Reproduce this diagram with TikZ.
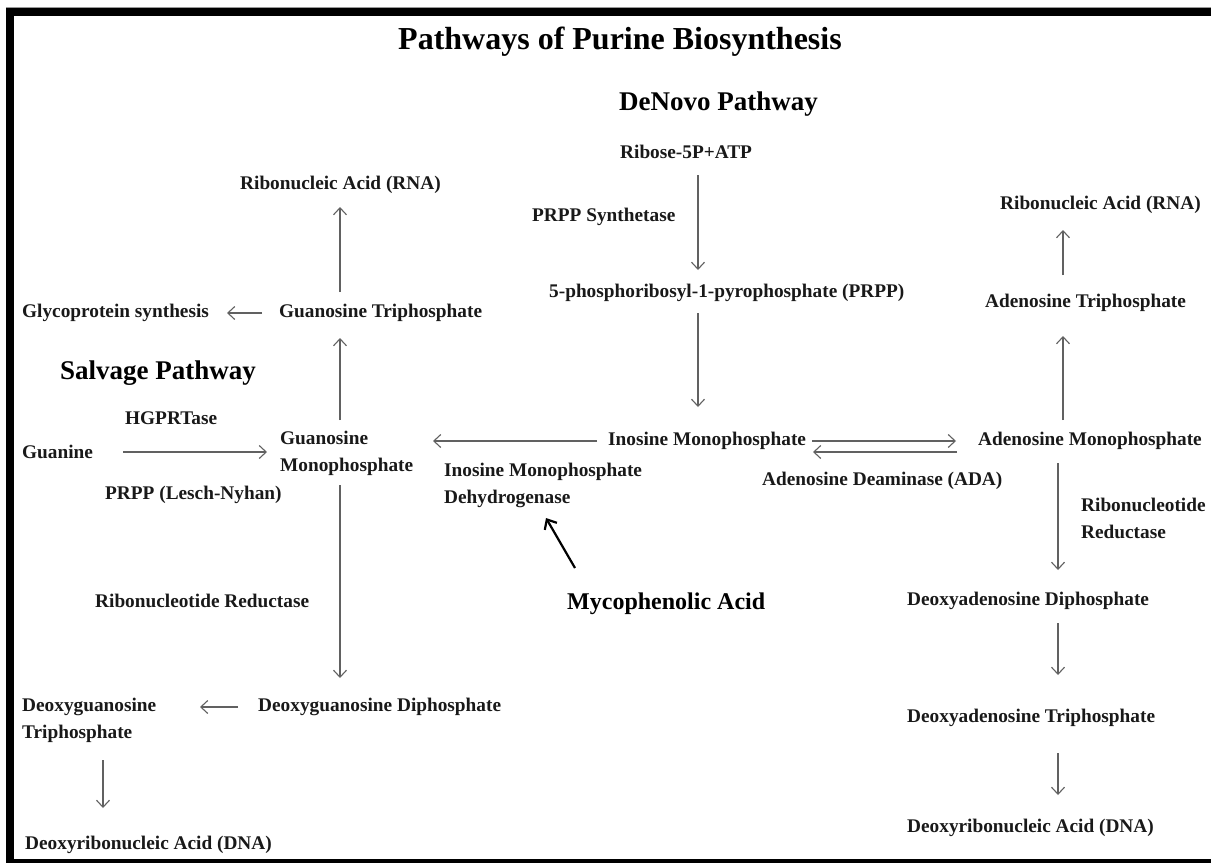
\documentclass[tikz,border=0pt]{standalone}
\usepackage{fontspec}
\setmainfont{Liberation Serif}
\usetikzlibrary{arrows.meta}
\begin{document}
\begin{tikzpicture}[x=1pt,y=-1pt,
  lbl/.style={font=\bfseries\fontsize{19.3}{27}\selectfont, text=black!90, inner sep=0pt, align=left, anchor=west},
  hd/.style={font=\bfseries\fontsize{27}{30}\selectfont, inner sep=0pt, anchor=west},
  arr/.style={draw=black!62, line width=1.1pt, -{Straight Barb[length=7pt,width=13pt,line width=1.1pt]}},
  inhib/.style={draw=black, line width=2.2pt, -{Straight Barb[length=8pt,width=14pt,line width=2.2pt]}}]
\useasboundingbox (0,0) rectangle (1211,863);
\fill[white] (0,0) rectangle (1211,863);
% frame
\fill[black!40] (6,6.5) rectangle (1211,8);
\fill[black] (6,8) rectangle (1211,16);
\fill[black] (6,8) rectangle (14,863);
\fill[black] (6,859) rectangle (1211,863);

% headings
\node[hd, font=\bfseries\fontsize{32}{34}\selectfont, anchor=center] (title) at (620,42) {Pathways of Purine Biosynthesis};
\node[hd] (denovo) at (619,104) {DeNovo Pathway};
\node[hd] (salvage) at (60,373) {Salvage Pathway};
\node[hd, font=\bfseries\fontsize{24}{28}\selectfont] (myco) at (567,604) {Mycophenolic Acid};

% de novo column
\node[lbl] (ribose) at (620,152) {Ribose-5P+ATP};
\node[lbl] (prpps) at (532,217) {PRPP Synthetase};
\node[lbl] (prpp) at (549,293) {5-phosphoribosyl-1-pyrophosphate (PRPP)};
\node[lbl] (imp) at (608,441) {Inosine Monophosphate};
\node[lbl] (impdh) at (444,485) {Inosine Monophosphate\\Dehydrogenase};

% guanosine side
\node[lbl] (rnaL) at (240,185) {Ribonucleic Acid (RNA)};
\node[lbl] (gtp) at (279,313) {Guanosine Triphosphate};
\node[lbl] (glyco) at (22,313) {Glycoprotein synthesis};
\node[lbl] (hgprt) at (125,418) {HGPRTase};
\node[lbl] (guanine) at (22,452) {Guanine};
\node[lbl] (gmp) at (280,453.5) {Guanosine\\Monophosphate};
\node[lbl] (lesch) at (105,495) {PRPP (Lesch-Nyhan)};
\node[lbl] (rrL) at (95,601) {Ribonucleotide Reductase};
\node[lbl] (dgdp) at (258,707) {Deoxyguanosine Diphosphate};
\node[lbl] (dgtp) at (22,720) {Deoxyguanosine\\Triphosphate};
\node[lbl] (dnaL) at (25,845) {Deoxyribonucleic Acid (DNA)};

% adenosine side
\node[lbl] (rnaR) at (1000,205) {Ribonucleic Acid (RNA)};
\node[lbl] (atp) at (985,303) {Adenosine Triphosphate};
\node[lbl] (amp) at (978,441) {Adenosine Monophosphate};
\node[lbl] (ada) at (762,481) {Adenosine Deaminase (ADA)};
\node[lbl] (rrR) at (1081,518.5) {Ribonucleotide\\Reductase};
\node[lbl] (dadp) at (907,601) {Deoxyadenosine Diphosphate};
\node[lbl] (datp) at (907,718) {Deoxyadenosine Triphosphate};
\node[lbl] (dnaR) at (907,828) {Deoxyribonucleic Acid (DNA)};

% connector end points
\coordinate (c1a) at (698,175);  \coordinate (c1b) at (698,270);
\coordinate (c2a) at (698,313);  \coordinate (c2b) at (698,407);
\coordinate (c3a) at (597,441);  \coordinate (c3b) at (433,441);
\coordinate (c4a) at (812,441);  \coordinate (c4b) at (956,441);
\coordinate (c5a) at (957,452);  \coordinate (c5b) at (813,452);
\coordinate (c6a) at (123,452);  \coordinate (c6b) at (267,452);
\coordinate (c7a) at (340,420);  \coordinate (c7b) at (340,338);
\coordinate (c8a) at (340,292);  \coordinate (c8b) at (340,207);
\coordinate (c9a) at (262,313);  \coordinate (c9b) at (227,313);
\coordinate (c10a) at (1063,420); \coordinate (c10b) at (1063,336);
\coordinate (c11a) at (1063,275); \coordinate (c11b) at (1063,230);
\coordinate (c12a) at (1058,463); \coordinate (c12b) at (1058,570);
\coordinate (c13a) at (1058,623); \coordinate (c13b) at (1058,675);
\coordinate (c14a) at (1058,753); \coordinate (c14b) at (1058,795);
\coordinate (c15a) at (340,485);  \coordinate (c15b) at (340,678);
\coordinate (c16a) at (238,707);  \coordinate (c16b) at (200,707);
\coordinate (c17a) at (103,760);  \coordinate (c17b) at (103,808);
\coordinate (c18a) at (575,568);  \coordinate (c18b) at (546,518);

\draw[arr] (c1a) -- (c1b);
\draw[arr] (c2a) -- (c2b);
\draw[arr] (c3a) -- (c3b);
\draw[arr] (c4a) -- (c4b);
\draw[arr] (c5a) -- (c5b);
\draw[arr] (c6a) -- (c6b);
\draw[arr] (c7a) -- (c7b);
\draw[arr] (c8a) -- (c8b);
\draw[arr] (c9a) -- (c9b);
\draw[arr] (c10a) -- (c10b);
\draw[arr] (c11a) -- (c11b);
\draw[arr] (c12a) -- (c12b);
\draw[arr] (c13a) -- (c13b);
\draw[arr] (c14a) -- (c14b);
\draw[arr] (c15a) -- (c15b);
\draw[arr] (c16a) -- (c16b);
\draw[arr] (c17a) -- (c17b);
\draw[inhib] (c18a) -- (c18b);
\end{tikzpicture}
\end{document}
